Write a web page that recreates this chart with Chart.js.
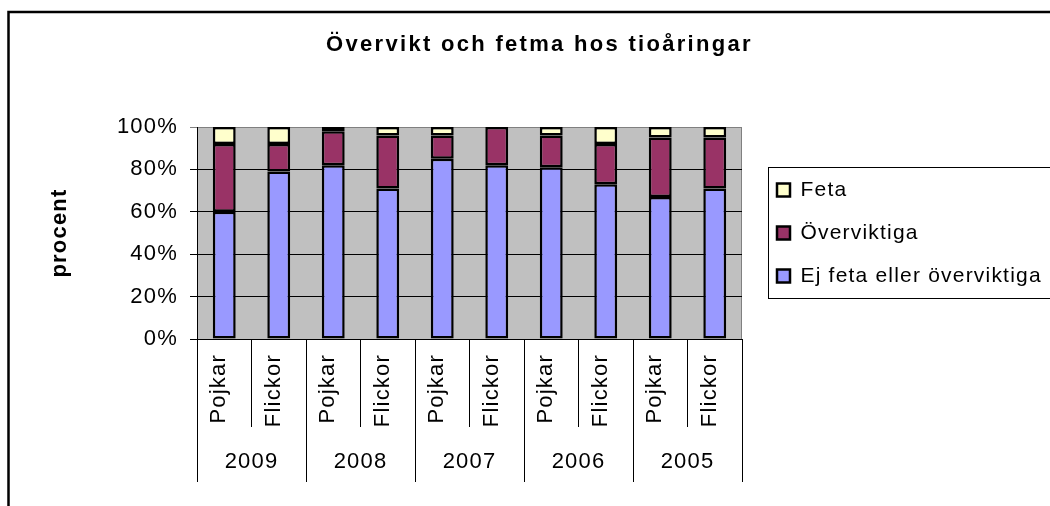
<!DOCTYPE html>
<html>
<head>
<meta charset="utf-8">
<script src="https://cdn.jsdelivr.net/npm/chart.js@4/dist/chart.umd.min.js"></script>
<style>
  html, body { margin: 0; padding: 0; background: #fff; }
  canvas { display: block; }
</style>
</head>
<body>
<canvas id="chart" width="1050" height="506"></canvas>
<script>
const years = ["2009", "2008", "2007", "2006", "2005"];
const groups = ["Pojkar", "Flickor", "Pojkar", "Flickor", "Pojkar", "Flickor", "Pojkar", "Flickor", "Pojkar", "Flickor"];

// percent per bar
const ejFeta      = [60, 79, 82, 71, 85, 82, 81, 73, 67, 71];
const overviktiga = [32, 13, 16, 25, 11, 18, 15, 19, 28, 24];
const feta        = [ 8,  8,  2,  4,  4,  0,  4,  8,  5,  5];

const family = "'Liberation Sans', Arial, sans-serif";
Chart.defaults.font.family = family;
Chart.defaults.color = "#000";

// Excel-ish look: grey plot area, framed legend, wider letter spacing
const excelLook = {
  id: "excelLook",
  beforeLayout(chart) {
    chart.ctx.letterSpacing = "1.2px";
    const lg = chart.legend;
    if (lg && !lg._fixed) {
      const fit = lg.fit;
      lg.fit = function () { fit.call(this); this.width = 308; };
      lg._fixed = true;
    }
    const tb = chart.titleBlock;
    if (tb && !tb._fixed) {
      const draw = tb.draw;
      tb.draw = function (area) {
        const old = this.ctx.letterSpacing;
        this.ctx.letterSpacing = "2.3px";
        draw.call(this, area);
        this.ctx.letterSpacing = old;
      };
      tb._fixed = true;
    }
  },
  afterLayout(chart) {
    const a = chart.chartArea;
    const lg = chart.legend;
    lg.left = a.right + 13;
    lg.top = a.top;
    lg.bottom = a.bottom;
  },
  beforeDraw(chart) {
    const { ctx, chartArea: a } = chart;
    ctx.letterSpacing = "1.2px";
    ctx.save();
    ctx.fillStyle = "#c0c0c0";
    ctx.fillRect(a.left, a.top, a.width, a.height);
    ctx.strokeStyle = "#808080";
    ctx.lineWidth = 1;
    ctx.strokeRect(a.left + 0.5, a.top + 0.5, a.width - 1, a.height);
    ctx.restore();
  },
  afterDraw(chart) {
    const { ctx, chartArea: a } = chart;
    ctx.save();
    ctx.strokeStyle = "#000";
    ctx.lineWidth = 1;
    ctx.strokeRect(a.right + 26.5, a.top + 40.5, 300, 131);
    ctx.lineWidth = 2.5;
    ctx.beginPath();
    ctx.moveTo(8.5, 506);
    ctx.lineTo(8.5, 12);
    ctx.lineTo(1050, 12);
    ctx.stroke();
    ctx.restore();
  }
};

const barStyle = { borderColor: "#000", borderWidth: 2.5, borderSkipped: false, barPercentage: 0.42, categoryPercentage: 1 };

new Chart(document.getElementById("chart"), {
  type: "bar",
  data: {
    labels: groups,
    datasets: [
      { label: "Ej feta eller överviktiga", data: ejFeta, backgroundColor: "#9999ff", ...barStyle },
      { label: "Överviktiga", data: overviktiga, backgroundColor: "#993366", ...barStyle },
      { label: "Feta", data: feta, backgroundColor: "#ffffcc", ...barStyle }
    ]
  },
  options: {
    responsive: false,
    animation: false,
    layout: { padding: { left: 29, right: 0, top: 0, bottom: 24 } },
    plugins: {
      title: {
        display: true,
        text: "Övervikt och fetma hos tioåringar",
        color: "#000",
        font: { size: 22, weight: "bold" },
        padding: { top: 32, bottom: 68.6 }
      },
      legend: {
        position: "right",
        reverse: true,
        labels: { color: "#000", font: { size: 21 }, boxWidth: 13, boxHeight: 13, padding: 22 }
      },
      tooltip: { enabled: false }
    },
    scales: {
      x: {
        stacked: true,
        weight: 0,
        grid: { offset: true, drawOnChartArea: false, tickLength: 88, color: "#000" },
        border: { color: "#000" },
        ticks: { font: { size: 22 }, minRotation: 90, maxRotation: 90, autoSkip: false, padding: -73, labelOffset: -5 },
        afterFit(s) { s.height = 88; }
      },
      x2: {
        type: "category",
        labels: years,
        position: "bottom",
        weight: 1,
        offset: true,
        grid: { offset: true, drawOnChartArea: false, tickLength: 55, color: "#000" },
        border: { display: false },
        ticks: { font: { size: 22 }, autoSkip: false, padding: -33 },
        afterFit(s) { s.height = 55; }
      },
      y: {
        stacked: true,
        min: 0,
        max: 100,
        ticks: { stepSize: 20, callback: v => v + "%", font: { size: 22 }, padding: 12 },
        grid: { tickLength: 7, color: c => (c.tick && c.tick.value === 100 ? "#808080" : "#000") },
        border: { color: "#000" },
        title: { display: true, text: "procent", color: "#000", font: { size: 22, weight: "bold" }, padding: { top: 18, bottom: 0 } },
        afterFit(s) { s.width = 168; }
      }
    }
  },
  plugins: [excelLook]
});
</script>
</body>
</html>
